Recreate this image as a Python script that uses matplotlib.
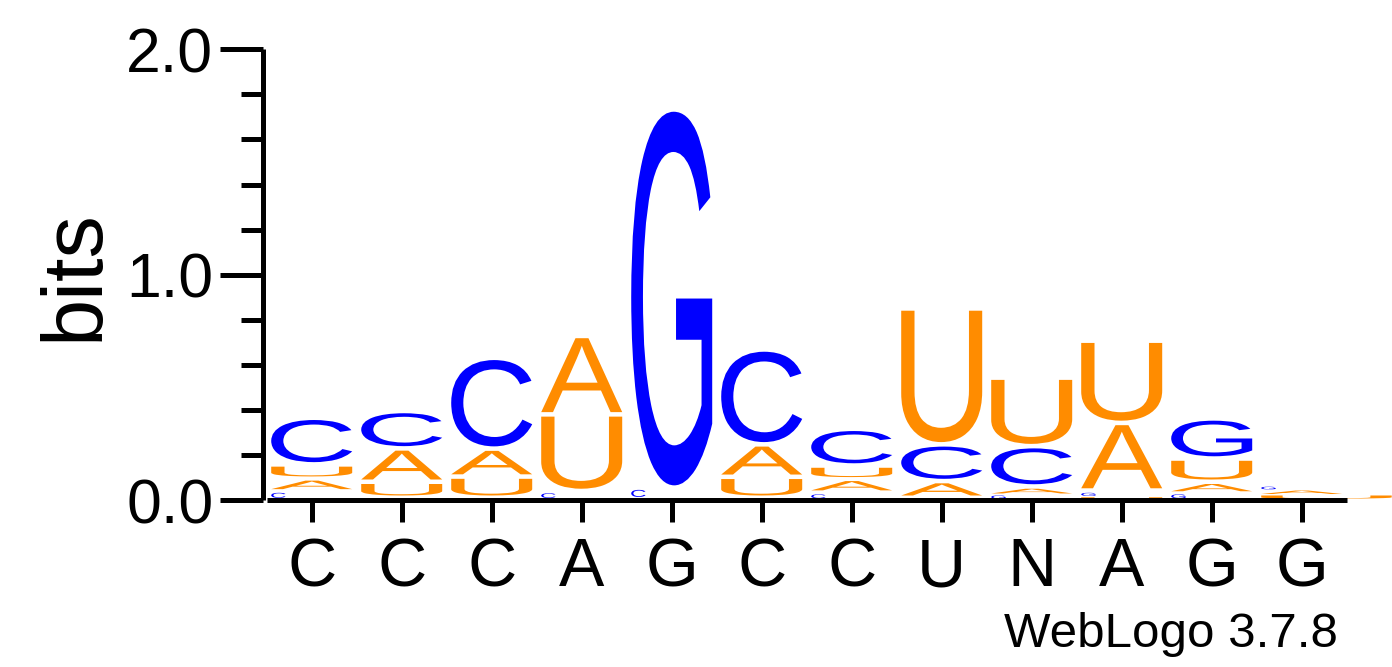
import matplotlib
matplotlib.use("Agg")
import matplotlib.pyplot as plt
from matplotlib.textpath import TextPath
from matplotlib.font_manager import FontProperties
from matplotlib.patches import PathPatch
from matplotlib.transforms import Affine2D

# sequence logo data: letters per position, stacked bottom -> top, heights in bits
positions = ['C', 'C', 'C', 'A', 'G', 'C', 'C', 'U', 'N', 'A', 'G', 'G']
stack_letters = [
    ['C', 'A', 'U', 'C'],
    ['U', 'A', 'C'],
    ['U', 'A', 'C'],
    ['C', 'U', 'A'],
    ['C', 'G'],
    ['U', 'A', 'C'],
    ['C', 'A', 'U', 'C'],
    ['A', 'C', 'U'],
    ['G', 'A', 'C', 'U'],
    ['U', 'G', 'A', 'U'],
    ['G', 'A', 'U', 'G'],
    ['U', 'A', 'G'],
]
stack_heights = [
    [0.032, 0.054, 0.062, 0.207],
    [0.071, 0.148, 0.166],
    [0.094, 0.124, 0.403],
    [0.030, 0.340, 0.348],
    [0.045, 1.678],
    [0.093, 0.144, 0.421],
    [0.025, 0.059, 0.059, 0.163],
    [0.074, 0.163, 0.603],
    [0.020, 0.030, 0.179, 0.304],
    [0.012, 0.020, 0.300, 0.365],
    [0.025, 0.046, 0.103, 0.178],
    [0.020, 0.022, 0.017],
]

colors = {'A': '#FF8C00', 'U': '#FF8C00', 'C': '#0000FF', 'G': '#0000FF'}
font = 'Liberation Sans'
plt.rcParams['font.family'] = font
fp = FontProperties(family=font)


def draw_glyph(ax, letter, x0, x1, y0, y1, color):
    tp = TextPath((0, 0), letter, size=1, prop=fp)
    ext = tp.get_extents()
    tr = (Affine2D().translate(-ext.x0, -ext.y0)
          .scale((x1 - x0) / ext.width, (y1 - y0) / ext.height)
          .translate(x0, y0))
    ax.add_patch(PathPatch(tr.transform_path(tp), fc=color, ec='none', lw=0,
                           zorder=1, clip_on=False))


fig = plt.figure(figsize=(13.92, 6.67), dpi=100)
ax = fig.add_axes([0.1916, 0.25037, 0.77586, 0.67571])

half = 0.45
n = len(stack_letters)
for i, (letters, heights) in enumerate(zip(stack_letters, stack_heights)):
    xc = i + 1
    y = 0.0
    for j, (letter, h) in enumerate(zip(letters, heights)):
        gap = min(0.02, 0.3 * h)
        if h < 0.05 and letter in 'CG':
            # tiny blue glyphs come out narrow and left aligned in the original
            x0, x1 = xc - half, xc - half + 0.16
        elif i == n - 1 and j == 0:
            # the last flat glyph runs off to the right edge in the original
            x0, x1 = xc - half, xc + 1.0
        else:
            x0, x1 = xc - half, xc + half
        draw_glyph(ax, letter, x0, x1, y + gap, y + h, colors[letter])
        y += h

ax.set_xlim(0.5, 12.5)
ax.set_ylim(0, 2)
ax.set_xticks(range(1, len(positions) + 1))
ax.set_xticklabels(positions)
ax.set_yticks([0, 1, 2])
ax.set_yticks([0.2, 0.4, 0.6, 0.8, 1.2, 1.4, 1.6, 1.8], minor=True)
ax.set_yticklabels(['0.0', '1.0', '2.0'])

ax.spines['top'].set_visible(False)
ax.spines['right'].set_visible(False)
ax.spines['left'].set_position(('outward', 2.45))
ax.spines['left'].set_bounds(0, 2)
for s in ['left', 'bottom']:
    ax.spines[s].set_linewidth(3.6)
    ax.spines[s].set_capstyle('butt')

ax.tick_params(axis='y', which='major', length=31, width=3.6, pad=5, labelsize=45)
ax.tick_params(axis='y', which='minor', length=16, width=3.6)
ax.tick_params(axis='x', which='major', length=15.6, width=3.6, pad=10.5, labelsize=49)

fig.text(97 / 1392, 1 - 275 / 667, 'bits', fontsize=61,
         rotation=90, rotation_mode='anchor', ha='center', va='baseline')
fig.text(1338 / 1392, 1 - 646.7 / 667, 'WebLogo 3.7.8', fontsize=35.5,
         ha='right', va='baseline')

fig.savefig('out.png', dpi=100)
